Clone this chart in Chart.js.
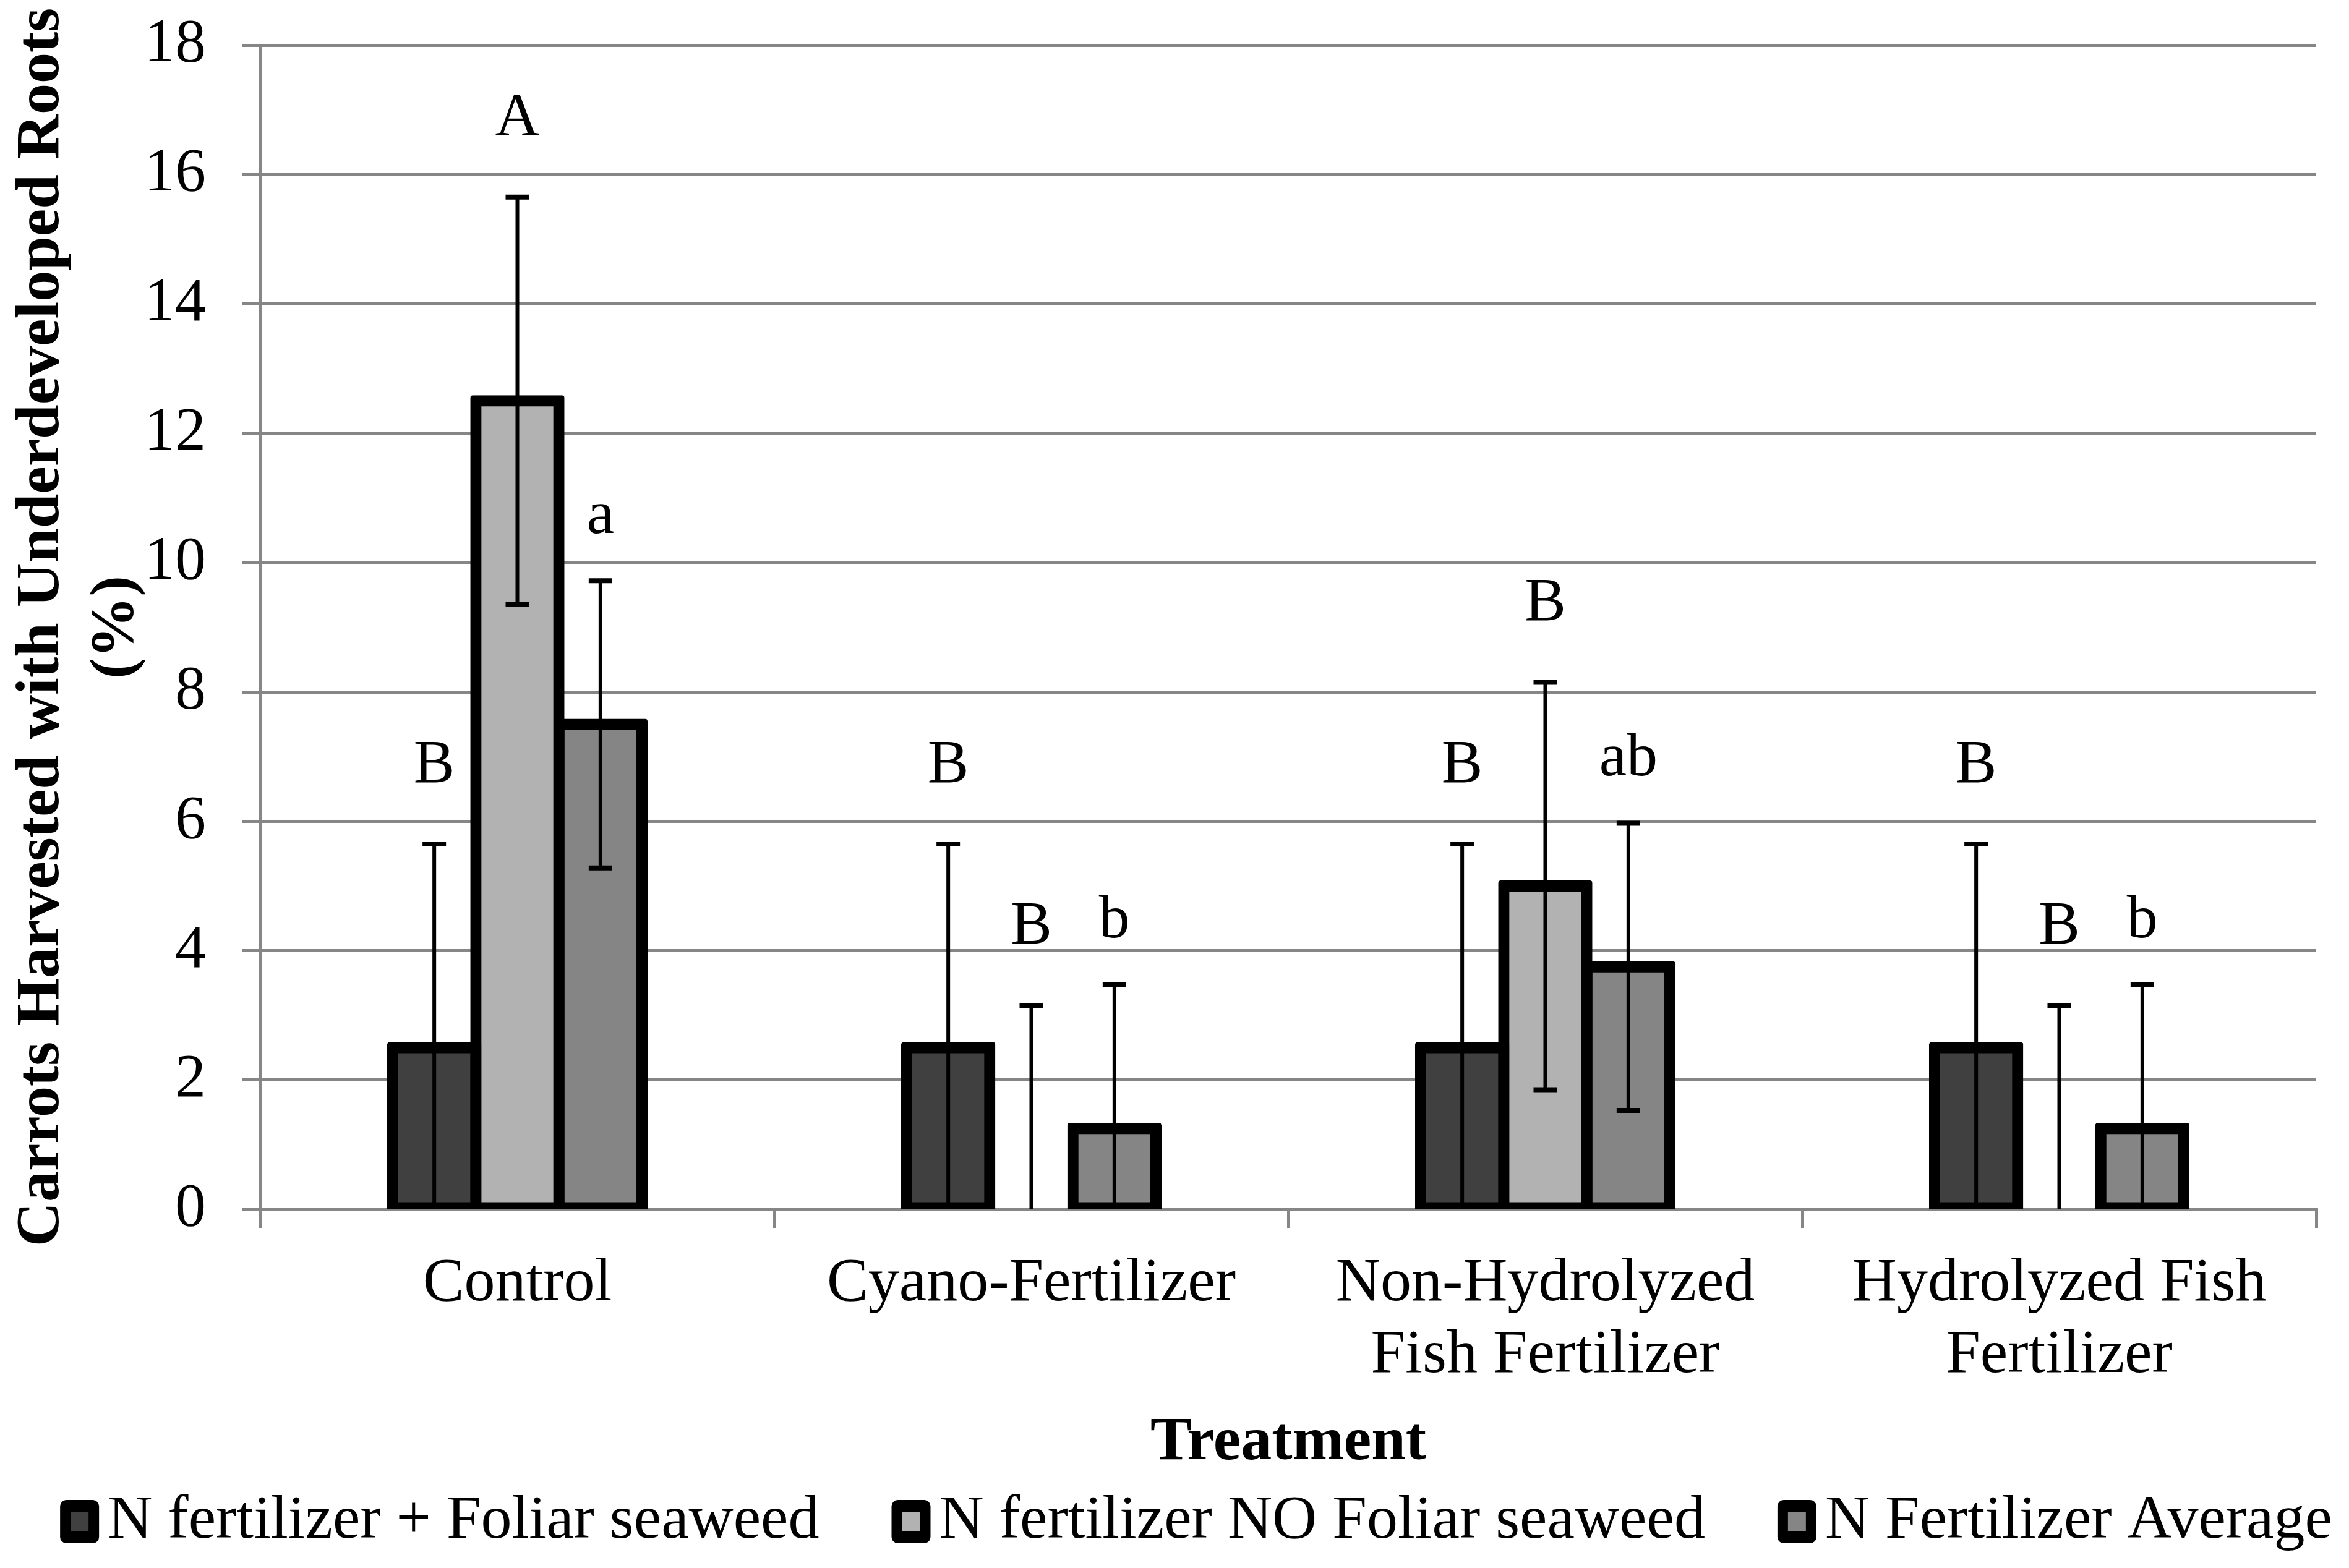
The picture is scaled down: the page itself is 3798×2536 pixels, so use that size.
<!DOCTYPE html>
<html><head><meta charset="utf-8">
<script src="https://cdn.jsdelivr.net/npm/chart.js@4.4.0/dist/chart.umd.min.js"></script>
<style>html,body{margin:0;padding:0;background:#fff;} #wrap{width:3798px;height:2536px;}</style>
</head><body><div id="wrap"><canvas id="c" width="3798" height="2536"></canvas></div>
<script>
// ---- data ----
const categories = ['Control', 'Cyano-Fertilizer', ['Non-Hydrolyzed', 'Fish Fertilizer'], ['Hydrolyzed Fish', 'Fertilizer']];
const seriesNames = ['N fertilizer + Foliar seaweed', 'N fertilizer NO Foliar seaweed', 'N Fertilizer Average'];
const foliarValues = [2.5, 2.5, 2.5, 2.5];
const noFoliarValues = [12.5, 0, 5.0, 0];
const averageValues = [7.5, 1.25, 3.75, 1.25];
const foliarErrors = [3.15, 3.15, 3.15, 3.15];
const noFoliarErrors = [3.15, 3.15, 3.15, 3.15];
const averageErrors = [2.22, 2.22, 2.22, 2.22];
const foliarLetters = ['B', 'B', 'B', 'B'];
const noFoliarLetters = ['A', 'B', 'B', 'B'];
const averageLetters = ['a', 'b', 'ab', 'b'];
const yTicks = [0, 2, 4, 6, 8, 10, 12, 14, 16, 18];
const yTitle = ['Carrots Harvested with Underdeveloped Roots', '(%)'];
const xTitle = 'Treatment';

const FONT = '"Liberation Serif", "Times New Roman", serif';
const GRID = '#868686';

const errorBarPlugin = {
  id: 'errbars',
  afterDatasetsDraw(chart) {
    const ctx = chart.ctx;
    const ys = chart.scales.y;
    chart.data.datasets.forEach((ds, di) => {
      const meta = chart.getDatasetMeta(di);
      meta.data.forEach((bar, i) => {
        const v = ds.data[i], e = ds.errors[i];
        const lo = Math.max(v - e, ys.min);
        const yTop = ys.getPixelForValue(v + e);
        const yLo = ys.getPixelForValue(lo);
        ctx.save();
        ctx.strokeStyle = '#000';
        ctx.lineWidth = 6;
        ctx.beginPath();
        ctx.moveTo(bar.x, yTop); ctx.lineTo(bar.x, yLo);
        ctx.stroke();
        ctx.lineWidth = 8;
        ctx.beginPath();
        ctx.moveTo(bar.x - 19, yTop); ctx.lineTo(bar.x + 19, yTop);
        if (v - e > ys.min) { ctx.moveTo(bar.x - 19, yLo); ctx.lineTo(bar.x + 19, yLo); }
        ctx.stroke();
        ctx.fillStyle = '#000';
        ctx.font = '100px ' + FONT;
        ctx.textAlign = 'center';
        ctx.textBaseline = 'alphabetic';
        ctx.fillText(ds.letters[i], bar.x, yTop - ds.letterGap);
        ctx.restore();
      });
    });
  }
};

const legendPlugin = {
  id: 'boxLegend',
  afterDraw(chart) {
    const ctx = chart.ctx;
    const dss = chart.data.datasets;
    ctx.save();
    ctx.font = '100px ' + FONT;
    const boxW = 63, boxH = 70, gapBT = 14, gapItem = 117;
    const widths = dss.map(d => ctx.measureText(d.label).width);
    const total = widths.reduce((a, w) => a + boxW + gapBT + w, 0) + gapItem * (dss.length - 1);
    let x = chart.width / 2 + 35 - total / 2;
    const cy = chart.height - 75;
    dss.forEach((d, i) => {
      ctx.fillStyle = '#000';
      ctx.beginPath();
      ctx.roundRect(x, cy - boxH / 2, boxW, boxH, 10);
      ctx.fill();
      ctx.fillStyle = d.backgroundColor;
      ctx.fillRect(x + 17, cy - boxH / 2 + 20, boxW - 34, boxH - 40);
      ctx.fillStyle = '#000';
      ctx.textAlign = 'left';
      ctx.textBaseline = 'middle';
      ctx.fillText(d.label, x + boxW + gapBT, cy);
      x += boxW + gapBT + widths[i] + gapItem;
    });
    ctx.restore();
  }
};

const mk = (label, data, errors, letters, color, letterGap) => ({
  label, data, errors, letters, letterGap,
  backgroundColor: color,
  borderColor: '#000',
  borderWidth: c => (c.raw === 0 ? 0 : 18),
  inflateAmount: c => (c.raw === 0 ? 0 : 9),
  borderSkipped: false,
  borderRadius: 4,
  barPercentage: 1,
  categoryPercentage: 0.485
});

new Chart(document.getElementById('c'), {
  type: 'bar',
  data: {
    labels: categories,
    datasets: [
      mk(seriesNames[0], foliarValues, foliarErrors, foliarLetters, '#404040', 100),
      mk(seriesNames[1], noFoliarValues, noFoliarErrors, noFoliarLetters, '#B2B2B2', 100),
      mk(seriesNames[2], averageValues, averageErrors, averageLetters, '#858585', 77)
    ]
  },
  options: {
    responsive: false,
    devicePixelRatio: 1,
    animation: false,
    layout: { padding: { left: 0, right: 53, top: 73, bottom: 144 } },
    plugins: {
      legend: { display: false },
      tooltip: { enabled: false }
    },
    scales: {
      x: {
        grid: { drawOnChartArea: false, drawTicks: true, tickLength: 30, color: GRID, lineWidth: 5, offset: true },
        border: { color: GRID, width: 5 },
        ticks: { font: { family: FONT, size: 100, lineHeight: 1.16 }, color: '#000', padding: 33, maxRotation: 0, autoSkip: false },
        title: { display: true, text: xTitle, font: { family: FONT, size: 100, weight: 'bold', lineHeight: 1.16 }, color: '#000', padding: { top: -8, bottom: 0 } }
      },
      y: {
        min: 0, max: 18,
        afterBuildTicks(scale) { scale.ticks = yTicks.map(v => ({ value: v })); },
        grid: { color: GRID, lineWidth: 5, tickLength: 30 },
        border: { color: GRID, width: 5 },
        ticks: { font: { family: FONT, size: 100, lineHeight: 0.3 }, color: '#000', padding: 58 },
        title: { display: true, text: yTitle, font: { family: FONT, size: 100, weight: 'bold', lineHeight: 1.2 }, color: '#000', padding: { top: 8, bottom: -73 } }
      }
    }
  },
  plugins: [errorBarPlugin, legendPlugin]
});
</script>
</body></html>
